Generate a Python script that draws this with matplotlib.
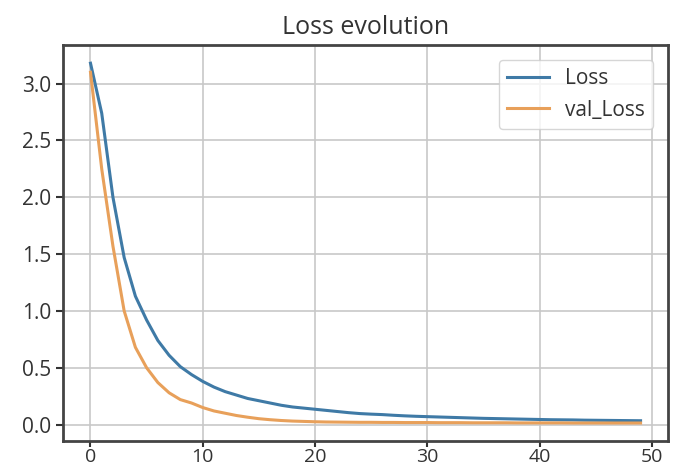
import matplotlib.pyplot as plt
import numpy as np

plt.rcParams['font.family'] = ['Open Sans', 'DejaVu Sans']

# valores
loss = [3.18, 2.74, 2.00, 1.47, 1.13, 0.92, 0.74, 0.61, 0.51, 0.44,
        0.38, 0.33, 0.29, 0.26, 0.23, 0.21, 0.19, 0.17, 0.155, 0.145,
        0.135, 0.125, 0.115, 0.105, 0.097, 0.092, 0.088, 0.082, 0.077, 0.073,
        0.070, 0.067, 0.064, 0.061, 0.058, 0.055, 0.053, 0.051, 0.049, 0.047,
        0.045, 0.043, 0.042, 0.041, 0.039, 0.038, 0.037, 0.036, 0.035, 0.034]
val_loss = [3.10, 2.25, 1.57, 1.00, 0.68, 0.50, 0.37, 0.28, 0.22, 0.19,
            0.15, 0.12, 0.10, 0.08, 0.065, 0.052, 0.043, 0.036, 0.031, 0.028,
            0.025, 0.023, 0.022, 0.021, 0.020, 0.020, 0.019, 0.019, 0.018, 0.018,
            0.018, 0.017, 0.017, 0.017, 0.016, 0.016, 0.016, 0.016, 0.015, 0.015,
            0.015, 0.015, 0.015, 0.014, 0.014, 0.014, 0.014, 0.014, 0.014, 0.014]
epochs = np.arange(len(loss))

fig = plt.figure(figsize=(6.81, 4.71), dpi=100)
ax = fig.add_axes([0.0925, 0.0637, 0.8885, 0.8403])

ax.plot(epochs, loss, color='#3f7aa6', lw=2.2, label='Loss')
ax.plot(epochs, val_loss, color='#e8a05a', lw=2.2, label='val_Loss')

ax.set_title('Loss evolution', fontsize=18, color='#333333', pad=8)
ax.grid(True, color='#c8c8c8', lw=1.2)
ax.set_axisbelow(True)
ax.set_xticks([0, 10, 20, 30, 40, 50])
ax.set_yticks([0.0, 0.5, 1.0, 1.5, 2.0, 2.5, 3.0])
ax.tick_params(labelsize=15, colors='#333333', width=1.5, length=5)
ax.tick_params(axis='x', labelsize=14, length=4, pad=1)
for s in ax.spines.values():
    s.set_color('#444444')
    s.set_linewidth(2)

ax.legend(loc='upper right', fontsize=15, labelcolor='#333333', handlelength=2.0,
          borderaxespad=0.7)

fig.savefig('out.png', dpi=100)
